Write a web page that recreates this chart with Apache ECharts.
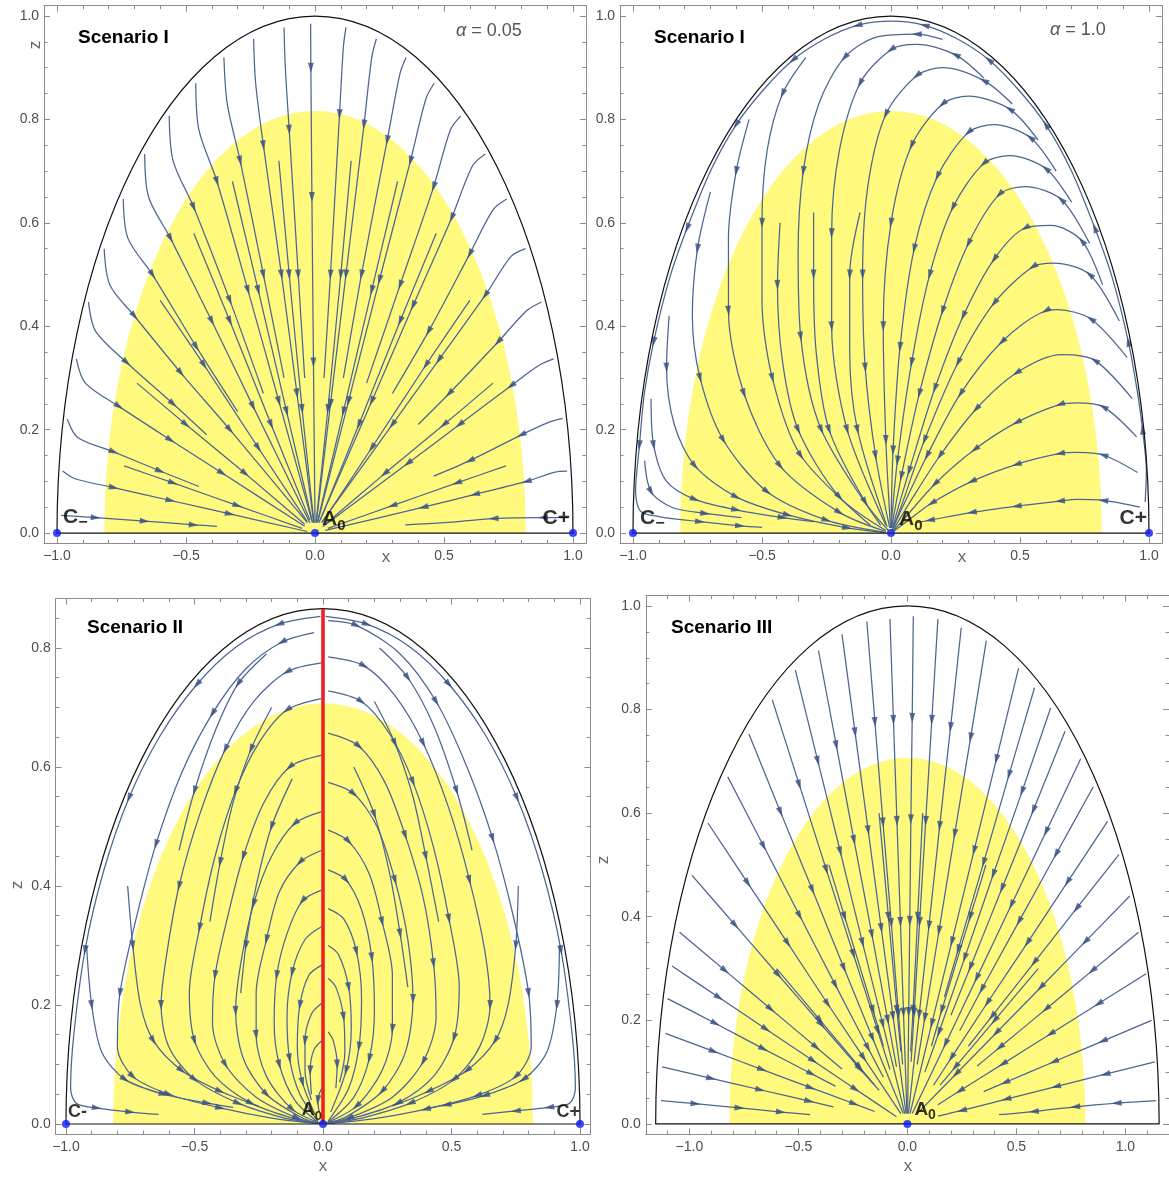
<!DOCTYPE html>
<html><head><meta charset="utf-8">
<script src="https://cdn.jsdelivr.net/npm/echarts@6/dist/echarts.min.js"></script>
<style>html,body{margin:0;padding:0;background:#fff}#c{width:1169px;height:1180px}</style>
</head><body><div id="c"></div>
<script>
// ---------------- DATA ----------------
// Streamlines: each is a list of [x, z] points; a third value 1 marks an arrow head at that point.
const p1Lines = [
 [[-0.984,0.034],[-0.85,0.03,1],[-0.66,0.023,1],[-0.47,0.016,1],[-0.38,0.013]],
 [[-0.978,0.12],[-0.93,0.105],[-0.78,0.088,1],[-0.56,0.063,1],[-0.33,0.037,1],[-0.03,0.003]],
 [[-0.96,0.22],[-0.92,0.185],[-0.78,0.157,1],[-0.6,0.12,1],[-0.45,0.09]],
 [[-0.925,0.337],[-0.89,0.29],[-0.76,0.245,1],[-0.56,0.18,1],[-0.36,0.116,1],[-0.04,0.013]],
 [[-0.878,0.447],[-0.85,0.39],[-0.73,0.33,1],[-0.55,0.25,1],[-0.42,0.19]],
 [[-0.817,0.55],[-0.795,0.48],[-0.7,0.42,1],[-0.52,0.31,1],[-0.33,0.2,1],[-0.03,0.02]],
 [[-0.743,0.646],[-0.725,0.57],[-0.63,0.5,1],[-0.46,0.36,1],[-0.3,0.235]],
 [[-0.66,0.733],[-0.645,0.65],[-0.56,0.57,1],[-0.4,0.41,1],[-0.24,0.245,1],[-0.02,0.02]],
 [[-0.565,0.807],[-0.55,0.72],[-0.47,0.63,1],[-0.33,0.45,1],[-0.2,0.27]],
 [[-0.462,0.87],[-0.45,0.78],[-0.38,0.68,1],[-0.26,0.47,1],[-0.14,0.255,1],[-0.01,0.02]],
 [[-0.353,0.92],[-0.34,0.83],[-0.29,0.72,1],[-0.2,0.5,1],[-0.12,0.3]],
 [[-0.238,0.956],[-0.23,0.87],[-0.2,0.75,1],[-0.13,0.5,1],[-0.07,0.27,1],[-0.005,0.02]],
 [[-0.12,0.978],[-0.115,0.9],[-0.1,0.78,1],[-0.065,0.5,1],[-0.04,0.3]],
 [[-0.017,0.985],[-0.016,0.9,1],[-0.012,0.65,1],[-0.006,0.33,1],[0,0.02]],
 [[0.98,0.03],[0.884,0.03,1],[0.692,0.028,1],[0.5,0.02],[0.35,0.016]],
 [[0.977,0.12],[0.93,0.118],[0.82,0.1,1],[0.62,0.075,1],[0.42,0.05,1],[0.04,0.005]],
 [[0.96,0.222],[0.91,0.215],[0.8,0.19,1],[0.6,0.14,1],[0.46,0.11]],
 [[0.925,0.337],[0.87,0.325],[0.76,0.285,1],[0.56,0.21,1],[0.36,0.135,1],[0.03,0.012]],
 [[0.878,0.447],[0.82,0.43],[0.71,0.37,1],[0.52,0.27,1],[0.4,0.21]],
 [[0.816,0.55],[0.76,0.535],[0.66,0.46,1],[0.48,0.335,1],[0.3,0.21,1],[0.025,0.02]],
 [[0.743,0.646],[0.69,0.625],[0.6,0.54,1],[0.44,0.39,1],[0.3,0.27]],
 [[0.66,0.733],[0.61,0.71],[0.53,0.61,1],[0.38,0.44,1],[0.22,0.255,1],[0.015,0.02]],
 [[0.565,0.807],[0.525,0.78],[0.46,0.67,1],[0.33,0.48,1],[0.2,0.29]],
 [[0.462,0.87],[0.43,0.84],[0.37,0.72,1],[0.25,0.49,1],[0.13,0.255,1],[0.01,0.02]],
 [[0.353,0.92],[0.33,0.89],[0.28,0.76,1],[0.18,0.5,1],[0.11,0.3]],
 [[0.238,0.956],[0.22,0.92],[0.19,0.79,1],[0.12,0.5,1],[0.06,0.25,1],[0.005,0.02]],
 [[0.12,0.978],[0.11,0.94],[0.095,0.81,1],[0.06,0.5,1],[0.035,0.3]],
 [[-0.74,0.13],[-0.55,0.097,1],[-0.3,0.053,1],[-0.05,0.009]],
 [[-0.69,0.29],[-0.5,0.21,1],[-0.27,0.115,1],[-0.04,0.017]],
 [[-0.6,0.45],[-0.43,0.325,1],[-0.22,0.165,1],[-0.03,0.022]],
 [[-0.47,0.58],[-0.33,0.41,1],[-0.17,0.21,1],[-0.02,0.025]],
 [[-0.32,0.68],[-0.22,0.47,1],[-0.11,0.235,1],[-0.01,0.022]],
 [[-0.14,0.72],[-0.1,0.5,1],[-0.05,0.24,1],[-0.004,0.02]],
 [[0.74,0.13],[0.55,0.097,1],[0.3,0.053,1],[0.05,0.009]],
 [[0.69,0.29],[0.5,0.21,1],[0.27,0.115,1],[0.04,0.017]],
 [[0.6,0.45],[0.43,0.325,1],[0.22,0.165,1],[0.03,0.022]],
 [[0.47,0.58],[0.33,0.41,1],[0.17,0.21,1],[0.02,0.025]],
 [[0.32,0.68],[0.22,0.47,1],[0.11,0.235,1],[0.01,0.022]],
 [[0.14,0.72],[0.1,0.5,1],[0.05,0.24,1],[0.004,0.02]]
];

const p2Lines = [
 [[0.965,0.05],[0.823,0.063,1],[0.72,0.065],[0.655,0.062,1],[0.487,0.052,1],[0.313,0.04,1],[0.151,0.025,1],[0.1,0.02]],
 [[0.956,0.117],[0.823,0.151,1],[0.72,0.156],[0.655,0.154,1],[0.487,0.133,1],[0.313,0.1,1],[0.158,0.058,1],[0.06,0.022],[0.012,0.004]],
 [[0.952,0.186],[0.823,0.244,1],[0.72,0.252],[0.655,0.249,1],[0.487,0.214,1],[0.325,0.162,1],[0.17,0.095,1],[0.05,0.027],[0.01,0.005]],
 [[0.935,0.26],[0.79,0.334,1],[0.66,0.345],[0.487,0.31,1],[0.33,0.24,1],[0.19,0.15,1],[0.08,0.065],[0.01,0.007]],
 [[0.915,0.34],[0.775,0.414,1],[0.645,0.432],[0.6,0.43,1],[0.43,0.37,1],[0.27,0.27,1],[0.14,0.15,1],[0.04,0.045],[0.005,0.006]],
 [[0.885,0.41],[0.77,0.5,1],[0.63,0.522],[0.55,0.515,1],[0.4,0.445,1],[0.26,0.33,1],[0.13,0.18,1],[0.035,0.045],[0.003,0.005]],
 [[0.82,0.48],[0.74,0.565,1],[0.62,0.595],[0.52,0.59,1],[0.4,0.53,1],[0.28,0.42,1],[0.17,0.28,1],[0.07,0.12,1],[0.005,0.01]],
 [[0.77,0.56],[0.66,0.645,1],[0.52,0.67],[0.42,0.655,1],[0.3,0.56,1],[0.2,0.43,1],[0.11,0.27,1],[0.04,0.11,1],[0.002,0.01]],
 [[0.7,0.64],[0.6,0.705,1],[0.46,0.73],[0.36,0.715,1],[0.24,0.63,1],[0.15,0.5,1],[0.08,0.33,1],[0.025,0.14,1],[0,0.01]],
 [[0.64,0.7],[0.54,0.765,1],[0.4,0.79],[0.3,0.775,1],[0.18,0.69,1],[0.09,0.55,1],[0.035,0.36,1],[0.008,0.16,1],[0,0.01]],
 [[0.57,0.76],[0.46,0.82,1],[0.3,0.845],[0.2,0.83,1],[0.08,0.75,1],[0.0,0.6,1],[-0.03,0.4,1],[-0.02,0.18,1],[-0.002,0.01]],
 [[0.47,0.83],[0.36,0.875,1],[0.2,0.9],[0.1,0.885,1],[-0.02,0.81,1],[-0.09,0.67],[-0.11,0.5,1],[-0.1,0.32,1],[-0.06,0.15,1],[-0.005,0.01]],
 [[0.36,0.88],[0.25,0.925,1],[0.1,0.945],[0.0,0.935,1],[-0.12,0.87,1],[-0.2,0.74],[-0.23,0.58,1],[-0.23,0.4,1],[-0.17,0.2,1],[-0.02,0.015]],
 [[0.2,0.955],[0.1,0.965,1],[-0.05,0.96],[-0.18,0.92,1],[-0.28,0.83],[-0.34,0.7,1],[-0.36,0.54],[-0.35,0.38,1],[-0.27,0.2,1],[-0.04,0.015]],
 [[0.985,0.06],[0.99,0.12],[0.975,0.2,1],[0.956,0.27],[0.92,0.37,1],[0.857,0.495],[0.79,0.59,1],[0.7,0.7],[0.6,0.79,1],[0.495,0.857],[0.38,0.915,1],[0.256,0.956],[0.13,0.982,1],[0,0.99],[-0.13,0.982,1],[-0.256,0.956],[-0.38,0.915,1],[-0.495,0.857],[-0.6,0.79,1],[-0.7,0.7],[-0.79,0.59,1],[-0.857,0.495],[-0.92,0.37,1],[-0.956,0.27],[-0.975,0.17,1],[-0.99,0.08],[-0.97,0.042],[-0.9,0.032],[-0.74,0.022,1],[-0.585,0.014,1],[-0.5,0.011]],
 [[-0.33,0.92],[-0.42,0.85,1],[-0.48,0.74],[-0.5,0.6,1],[-0.5,0.45],[-0.46,0.3,1],[-0.35,0.15,1],[-0.08,0.015]],
 [[-0.55,0.8],[-0.6,0.7,1],[-0.63,0.57],[-0.63,0.43,1],[-0.57,0.27,1],[-0.43,0.13,1],[-0.2,0.04,1],[-0.02,0.003]],
 [[-0.7,0.66],[-0.75,0.55,1],[-0.77,0.42],[-0.74,0.3,1],[-0.65,0.18,1],[-0.48,0.08,1],[-0.25,0.025,1],[-0.03,0.002]],
 [[-0.86,0.42],[-0.87,0.32,1],[-0.84,0.21],[-0.76,0.13,1],[-0.6,0.07,1],[-0.4,0.035,1],[-0.17,0.01,1],[-0.02,0.001]],
 [[-0.93,0.26],[-0.92,0.17,1],[-0.87,0.1],[-0.76,0.065,1],[-0.6,0.045,1],[-0.42,0.03,1],[-0.3,0.022]],
 [[-0.955,0.14],[-0.93,0.08,1],[-0.85,0.05],[-0.72,0.038,1],[-0.58,0.03]],
 [[-0.12,0.62],[-0.16,0.5,1],[-0.16,0.35],[-0.13,0.2,1],[-0.015,0.012]],
 [[-0.3,0.62],[-0.3,0.5,1],[-0.29,0.35],[-0.24,0.2,1],[-0.1,0.06,1],[-0.01,0.005]],
 [[-0.43,0.6],[-0.44,0.48,1],[-0.42,0.33],[-0.36,0.2,1],[-0.2,0.07,1],[-0.02,0.005]]
];

const p3LeftLines = [
 [[-0.01,0.853],[-0.171,0.84,1],[-0.337,0.802],[-0.49,0.739,1],[-0.633,0.653],[-0.755,0.548,1],[-0.853,0.426],[-0.926,0.292,1],[-0.97,0.148],[-0.982,0.06],[-0.96,0.035],[-0.88,0.027,1],[-0.75,0.02,1],[-0.64,0.016]],
 [[-0.035,0.826],[-0.16,0.81,1],[-0.3,0.765],[-0.43,0.69,1],[-0.55,0.59],[-0.65,0.47,1],[-0.73,0.34],[-0.79,0.22,1],[-0.8,0.13],[-0.74,0.08,1],[-0.6,0.05,1],[-0.4,0.027,1],[-0.2,0.01],[-0.03,0.001]],
 [[-0.92,0.3],[-0.9,0.2,1],[-0.86,0.12],[-0.77,0.075,1],[-0.62,0.05,1],[-0.45,0.035,1],[-0.35,0.028]],
 [[-0.005,0.775],[-0.14,0.76,1],[-0.27,0.71],[-0.38,0.63,1],[-0.48,0.52],[-0.56,0.4,1],[-0.61,0.28],[-0.63,0.2,1],[-0.6,0.13],[-0.5,0.075,1],[-0.33,0.035,1],[-0.15,0.01],[-0.02,0.001]],
 [[-0.76,0.4],[-0.74,0.3,1],[-0.71,0.2],[-0.66,0.14,1],[-0.55,0.09,1],[-0.4,0.055,1],[-0.25,0.03]],
 [[-0.005,0.715],[-0.14,0.696,1],[-0.25,0.64],[-0.34,0.56,1],[-0.42,0.45],[-0.48,0.33,1],[-0.52,0.22],[-0.5,0.14,1],[-0.42,0.08],[-0.28,0.035,1],[-0.12,0.01],[-0.02,0.001]],
 [[-0.005,0.62],[-0.13,0.6,1],[-0.23,0.54],[-0.31,0.45,1],[-0.37,0.35],[-0.42,0.25,1],[-0.43,0.17],[-0.38,0.1,1],[-0.26,0.045],[-0.1,0.01,1],[-0.01,0.001]],
 [[-0.005,0.525],[-0.11,0.505,1],[-0.2,0.45],[-0.27,0.37,1],[-0.32,0.27],[-0.34,0.19,1],[-0.31,0.11],[-0.22,0.05,1],[-0.08,0.01],[-0.01,0.001]],
 [[-0.005,0.46],[-0.09,0.44,1],[-0.17,0.39],[-0.22,0.31,1],[-0.26,0.22],[-0.26,0.15,1],[-0.22,0.08],[-0.12,0.025,1],[-0.01,0.001]],
 [[-0.005,0.393],[-0.08,0.375,1],[-0.14,0.32],[-0.18,0.25,1],[-0.19,0.17],[-0.17,0.1,1],[-0.11,0.04],[-0.02,0.003]],
 [[-0.005,0.332],[-0.07,0.31],[-0.12,0.255,1],[-0.14,0.18],[-0.13,0.11,1],[-0.09,0.05],[-0.02,0.005]],
 [[-0.005,0.267],[-0.055,0.25],[-0.09,0.2,1],[-0.1,0.13],[-0.08,0.07,1],[-0.03,0.015]],
 [[-0.005,0.203],[-0.045,0.185],[-0.07,0.14,1],[-0.07,0.09],[-0.045,0.04]],
 [[-0.005,0.14],[-0.035,0.125],[-0.05,0.09,1],[-0.045,0.05]],
 [[-0.005,0.06],[-0.02,0.04,1],[-0.015,0.02]],
 [[-0.22,0.79],[-0.33,0.74,1],[-0.42,0.66],[-0.5,0.56,1],[-0.56,0.46]],
 [[-0.2,0.7],[-0.28,0.63,1],[-0.35,0.54],[-0.4,0.44,1],[-0.44,0.34]],
 [[-0.12,0.58],[-0.2,0.5,1],[-0.26,0.4],[-0.3,0.3,1],[-0.32,0.22]]
];

const p3RightLines = [
 [[0.01,0.853],[0.171,0.84,1],[0.337,0.802],[0.49,0.739,1],[0.633,0.653],[0.755,0.548,1],[0.853,0.426],[0.926,0.292,1],[0.97,0.148],[0.982,0.06],[0.96,0.035],[0.88,0.028,1],[0.75,0.022,1],[0.62,0.016]],
 [[0.02,0.846],[0.13,0.838,1],[0.3,0.79],[0.44,0.71,1],[0.56,0.6],[0.66,0.48,1],[0.74,0.35],[0.8,0.22,1],[0.81,0.13],[0.75,0.08,1],[0.6,0.048,1],[0.4,0.025,1],[0.2,0.009],[0.03,0.001]],
 [[0.02,0.785],[0.16,0.77,1],[0.28,0.72],[0.39,0.64,1],[0.49,0.53],[0.57,0.41,1],[0.63,0.29],[0.65,0.2,1],[0.61,0.13],[0.51,0.075,1],[0.34,0.035,1],[0.15,0.01],[0.02,0.001]],
 [[0.02,0.728],[0.15,0.71,1],[0.26,0.655],[0.35,0.575,1],[0.43,0.465],[0.49,0.345,1],[0.53,0.23],[0.51,0.145,1],[0.43,0.08],[0.29,0.035,1],[0.12,0.01],[0.02,0.001]],
 [[0.02,0.657],[0.14,0.635,1],[0.24,0.575],[0.32,0.485,1],[0.39,0.38],[0.43,0.27,1],[0.44,0.18],[0.39,0.105,1],[0.27,0.045],[0.1,0.01,1],[0.01,0.001]],
 [[0.02,0.574],[0.12,0.555,1],[0.21,0.5],[0.28,0.41,1],[0.33,0.31],[0.35,0.21,1],[0.32,0.12],[0.23,0.055,1],[0.09,0.012],[0.01,0.001]],
 [[0.02,0.494],[0.1,0.475,1],[0.18,0.42],[0.23,0.34,1],[0.27,0.25],[0.27,0.16,1],[0.23,0.09],[0.13,0.03,1],[0.01,0.001]],
 [[0.02,0.427],[0.09,0.41,1],[0.15,0.36],[0.19,0.28,1],[0.2,0.19],[0.18,0.11,1],[0.12,0.045],[0.02,0.003]],
 [[0.02,0.362],[0.08,0.345],[0.13,0.29,1],[0.15,0.21],[0.14,0.13,1],[0.1,0.06],[0.02,0.005]],
 [[0.02,0.3],[0.06,0.285],[0.1,0.23,1],[0.11,0.16],[0.09,0.09,1],[0.03,0.02]],
 [[0.02,0.245],[0.05,0.23],[0.08,0.18,1],[0.085,0.12],[0.065,0.07]],
 [[0.02,0.155],[0.04,0.14],[0.055,0.1,1],[0.05,0.06]],
 [[0.92,0.3],[0.91,0.2,1],[0.87,0.12],[0.78,0.075,1],[0.63,0.048,1],[0.48,0.032,1],[0.4,0.026]],
 [[0.76,0.4],[0.75,0.3,1],[0.72,0.2],[0.67,0.14,1],[0.56,0.09,1],[0.41,0.055,1],[0.27,0.03]],
 [[0.22,0.8],[0.33,0.75,1],[0.43,0.67],[0.52,0.56,1],[0.58,0.46]],
 [[0.2,0.71],[0.28,0.64,1],[0.35,0.55],[0.4,0.45,1],[0.45,0.34]],
 [[0.12,0.6],[0.2,0.52,1],[0.26,0.42],[0.3,0.32,1],[0.33,0.23]]
];

const p4Lines = [
 [[-0.08,0.975],[-0.064,0.78,1],[-0.048,0.585,1],[-0.032,0.39,1],[-0.018,0.215,1],[-0.002,0.02]],
 [[-0.186,0.97],[-0.149,0.776,1],[-0.112,0.582,1],[-0.074,0.388,1],[-0.041,0.213,1],[-0.022,0.115]],
 [[-0.3,0.945],[-0.24,0.756,1],[-0.18,0.567,1],[-0.12,0.378,1],[-0.066,0.208,1],[-0.006,0.02]],
 [[-0.408,0.914],[-0.326,0.731,1],[-0.245,0.548,1],[-0.163,0.366,1],[-0.09,0.201,1],[-0.05,0.11]],
 [[-0.514,0.876],[-0.411,0.701,1],[-0.308,0.526,1],[-0.206,0.35,1],[-0.113,0.193,1],[-0.012,0.02]],
 [[-0.62,0.819],[-0.496,0.655,1],[-0.372,0.491,1],[-0.248,0.328,1],[-0.136,0.18,1],[-0.08,0.105]],
 [[-0.727,0.753],[-0.582,0.602,1],[-0.436,0.452,1],[-0.291,0.301,1],[-0.16,0.166,1],[-0.019,0.02]],
 [[-0.824,0.67],[-0.659,0.536,1],[-0.494,0.402,1],[-0.33,0.268,1],[-0.181,0.147,1],[-0.11,0.09]],
 [[-0.915,0.581],[-0.732,0.465,1],[-0.549,0.349,1],[-0.366,0.232,1],[-0.201,0.128,1],[-0.03,0.02]],
 [[-0.988,0.48],[-0.79,0.384,1],[-0.593,0.288,1],[-0.395,0.192,1],[-0.217,0.106,1],[-0.13,0.065]],
 [[-1.045,0.37],[-0.836,0.296,1],[-0.627,0.222,1],[-0.418,0.148,1],[-0.3,0.106]],
 [[-1.08,0.305],[-0.864,0.244,1],[-0.648,0.183,1],[-0.432,0.122,1],[-0.238,0.067,1],[-0.05,0.014]],
 [[-1.1,0.242],[-0.88,0.194,1],[-0.66,0.145,1],[-0.44,0.097,1],[-0.33,0.073]],
 [[-1.11,0.175],[-0.888,0.14,1],[-0.666,0.105,1],[-0.444,0.07,1],[-0.244,0.039,1],[-0.15,0.024]],
 [[-1.125,0.11],[-0.9,0.088,1],[-0.675,0.066,1],[-0.45,0.044,1],[-0.34,0.033]],
 [[-1.13,0.045],[-0.972,0.039,1],[-0.77,0.031,1],[-0.58,0.023,1],[-0.447,0.018]],
 [[0.027,0.98],[0.022,0.784,1],[0.016,0.588,1],[0.011,0.392,1],[0.006,0.216,1],[0.001,0.02]],
 [[0.14,0.975],[0.112,0.78,1],[0.084,0.585,1],[0.056,0.39,1],[0.031,0.215,1],[0.017,0.12]],
 [[0.247,0.958],[0.198,0.766,1],[0.148,0.575,1],[0.099,0.383,1],[0.054,0.211,1],[0.005,0.02]],
 [[0.362,0.933],[0.29,0.746,1],[0.217,0.56,1],[0.145,0.373,1],[0.08,0.205,1],[0.045,0.115]],
 [[0.51,0.88],[0.408,0.704,1],[0.306,0.528,1],[0.204,0.352,1],[0.112,0.194,1],[0.012,0.02]],
 [[0.583,0.842],[0.466,0.674,1],[0.35,0.505,1],[0.233,0.337,1],[0.17,0.245]],
 [[0.657,0.803],[0.526,0.642,1],[0.394,0.482,1],[0.263,0.321,1],[0.145,0.177,1],[0.08,0.1]],
 [[0.723,0.758],[0.578,0.606,1],[0.434,0.455,1],[0.289,0.303,1],[0.2,0.21]],
 [[0.795,0.705],[0.636,0.564,1],[0.477,0.423,1],[0.318,0.282,1],[0.175,0.155,1],[0.022,0.02]],
 [[0.853,0.651],[0.682,0.521,1],[0.512,0.391,1],[0.341,0.26,1],[0.24,0.18]],
 [[0.918,0.584],[0.734,0.467,1],[0.551,0.35,1],[0.367,0.234,1],[0.202,0.128,1],[0.12,0.075]],
 [[0.97,0.52],[0.776,0.416,1],[0.582,0.312,1],[0.388,0.208,1],[0.28,0.15]],
 [[1.02,0.44],[0.816,0.352,1],[0.612,0.264,1],[0.408,0.176,1],[0.224,0.097,1],[0.045,0.02]],
 [[1.06,0.37],[0.848,0.296,1],[0.636,0.222,1],[0.424,0.148,1],[0.32,0.112]],
 [[1.095,0.29],[0.876,0.232,1],[0.657,0.174,1],[0.438,0.116,1],[0.241,0.064,1],[0.14,0.037]],
 [[1.12,0.2],[0.896,0.16,1],[0.672,0.12,1],[0.448,0.08,1],[0.35,0.0625]],
 [[1.135,0.12],[0.908,0.096,1],[0.681,0.072,1],[0.454,0.048,1],[0.25,0.026,1],[0.14,0.015]],
 [[1.14,0.045],[0.96,0.04,1],[0.77,0.033,1],[0.58,0.024,1],[0.42,0.018]],
 [[-0.13,0.6],[-0.087,0.4,1],[-0.048,0.22,1],[-0.03,0.14]],
 [[0.07,0.6],[0.047,0.4,1],[0.026,0.22,1],[0.015,0.14]],
 [[-0.36,0.5],[-0.288,0.4,1],[-0.158,0.22,1],[-0.11,0.15]],
 [[0.36,0.5],[0.288,0.4,1],[0.158,0.22,1],[0.11,0.15]],
 [[-0.6,0.3],[-0.4,0.2,1],[-0.22,0.11,1],[-0.15,0.075]],
 [[0.6,0.3],[0.4,0.2,1],[0.22,0.11,1],[0.15,0.075]]
];

// Half-ellipses [centerX, centerZ, semiAxisX, semiAxisZ]
const boundaryP1 = [0, 0, 1, 1];
const yellowP1   = [0, 0, 0.8165, 0.8165];
const boundaryP2 = [0, 0, 1, 1];
const yellowP2   = [0, 0, 0.8165, 0.8165];
const boundaryP3 = [0, 0, 1, 0.866];
const yellowP3   = [0, 0, 0.8165, 0.7071];
const boundaryP4 = [0, 0, 1.1547, 1];
const yellowP4   = [0, 0, 0.8165, 0.7071];

const redLineP3 = [[0, 0], [0, 0.866]];

const pointsP1 = [[-1, 0], [0, 0], [1, 0]];
const pointsP2 = [[-1, 0], [0, 0], [1, 0]];
const pointsP3 = [[-1, 0], [0, 0], [1, 0]];
const pointsP4 = [[0, 0]];

// Tick values
const xMajorA = [-1, -0.5, 0, 0.5, 1];
const xMinorA = [-0.9,-0.8,-0.7,-0.6,-0.4,-0.3,-0.2,-0.1,0.1,0.2,0.3,0.4,0.6,0.7,0.8,0.9];
const xMinorP4 = [-1.1,-0.9,-0.8,-0.7,-0.6,-0.4,-0.3,-0.2,-0.1,0.1,0.2,0.3,0.4,0.6,0.7,0.8,0.9,1.1];
const zMajor10 = [0, 0.2, 0.4, 0.6, 0.8, 1.0];
const zMinor10 = [0.05,0.1,0.15,0.25,0.3,0.35,0.45,0.5,0.55,0.65,0.7,0.75,0.85,0.9,0.95];
const zMajor08 = [0, 0.2, 0.4, 0.6, 0.8];
const zMinor08 = [0.05,0.1,0.15,0.25,0.3,0.35,0.45,0.5,0.55,0.65,0.7,0.75,0.85];

// ---------------- LAYOUT / STYLE ----------------
const FONT = '"Liberation Sans", Arial, sans-serif';
const FRAME = '#8c8c8c';
const TICKTXT = '#4d4d4d';
const C_LINE = '#4c6593';
const C_ARROW = '#354f83';
const C_YELLOW = '#fffa7e';

const GRIDS = [
  {left: 44.1,  top: 5.7,   width: 541.8, height: 537.7, x: [-1.05, 1.05], z: [-0.02, 1.02], xMaj: xMajorA, xMin: xMinorA, zMaj: zMajor10, zMin: zMinor10},
  {left: 620.1, top: 5.7,   width: 541.8, height: 537.7, x: [-1.05, 1.05], z: [-0.02, 1.02], xMaj: xMajorA, xMin: xMinorA, zMaj: zMajor10, zMin: zMinor10},
  {left: 55.7,  top: 598.6, width: 534.6, height: 535.5, x: [-1.04, 1.04], z: [-0.017, 0.883], xMaj: xMajorA, xMin: xMinorA, zMaj: zMajor08, zMin: zMinor08},
  {left: 645.8, top: 595.6, width: 524.4, height: 538.7, x: [-1.2, 1.2],   z: [-0.02, 1.02], xMaj: xMajorA, xMin: xMinorP4, zMaj: zMajor10, zMin: zMinor10}
];

const fmtX = v => (v < 0 ? '\u2212' : '') + Math.abs(v).toFixed(1);
const fmtZ = v => v.toFixed(1);

function axis(kind, g, pos, ticks, len, labels, line) {
  const G = GRIDS[g];
  const ext = kind === 'x' ? G.x : G.z;
  return {
    type: 'value', gridIndex: g, position: pos, min: ext[0], max: ext[1], silent: true,
    axisLine: {show: line, onZero: false, lineStyle: {color: FRAME, width: 1}},
    axisTick: {show: true, inside: true, length: len, customValues: ticks, lineStyle: {color: FRAME, width: 1}},
    axisLabel: {show: labels, customValues: ticks, formatter: kind === 'x' ? fmtX : fmtZ,
      color: TICKTXT, fontSize: 14, fontFamily: FONT, margin: kind === 'x' ? 6 : 5},
    splitLine: {show: false}, minorTick: {show: false}
  };
}

const xAxes = [], yAxes = [];
GRIDS.forEach((G, g) => {
  xAxes.push(axis('x', g, 'bottom', G.xMaj, 6, true, true));
  xAxes.push(axis('x', g, 'bottom', G.xMin, 3.5, false, false));
  xAxes.push(axis('x', g, 'top', G.xMaj, 6, false, true));
  xAxes.push(axis('x', g, 'top', G.xMin, 3.5, false, false));
  yAxes.push(axis('z', g, 'left', G.zMaj, 6, true, true));
  yAxes.push(axis('z', g, 'left', G.zMin, 3.5, false, false));
  yAxes.push(axis('z', g, 'right', G.zMaj, 6, false, true));
  yAxes.push(axis('z', g, 'right', G.zMin, 3.5, false, false));
});

const HALF_PATH = 'M0 1 C0 0.4477 0.4477 0 1 0 C1.5523 0 2 0.4477 2 1 Z';
function halfEllipse(g, params, style, z) {
  return {
    type: 'custom', xAxisIndex: 4 * g, yAxisIndex: 4 * g, data: [params], silent: true, z: z, clip: false,
    renderItem: (p, api) => {
      const c = api.coord([api.value(0), api.value(1)]);
      const s = api.size([api.value(2), api.value(3)], [api.value(0), api.value(1)]);
      return {type: 'path', shape: {pathData: HALF_PATH, x: c[0] - s[0], y: c[1] - s[1], width: 2 * s[0], height: s[1], layout: 'cover'}, style: style};
    }
  };
}

function lineSeries(lines, g) {
  return lines.map(l => ({
    type: 'line', xAxisIndex: 4 * g, yAxisIndex: 4 * g, data: l.map(p => [p[0], p[1]]),
    smooth: 0.3, symbol: 'none', showSymbol: false, silent: true, z: 3,
    lineStyle: {color: C_LINE, width: 1.25}
  }));
}

let chart;
function arrowSeries(lines, g) {
  const data = [];
  lines.forEach(l => {
    for (let i = 1; i < l.length - 1; i++) {
      if (!l[i][2]) continue;
      const a = chart.convertToPixel({xAxisIndex: 4 * g, yAxisIndex: 4 * g}, [l[i - 1][0], l[i - 1][1]]);
      const b = chart.convertToPixel({xAxisIndex: 4 * g, yAxisIndex: 4 * g}, [l[i + 1][0], l[i + 1][1]]);
      const ang = Math.atan2(-(b[1] - a[1]), b[0] - a[0]) * 180 / Math.PI - 90;
      data.push({value: [l[i][0], l[i][1]], symbolRotate: ang});
    }
  });
  return {type: 'scatter', xAxisIndex: 4 * g, yAxisIndex: 4 * g, data: data, symbol: 'triangle',
    symbolSize: [6, 10], itemStyle: {color: C_ARROW}, silent: true, z: 4};
}

const RICH = (big, small) => ({
  b: {fontFamily: FONT, fontWeight: 'bold', fontSize: big, color: '#000', lineHeight: big + 3, verticalAlign: 'top'},
  s: {fontFamily: FONT, fontWeight: 'bold', fontSize: small, color: '#000', lineHeight: small, verticalAlign: 'bottom'}
});
function pointSeries(g, pts, labels) {
  return {
    type: 'scatter', xAxisIndex: 4 * g, yAxisIndex: 4 * g, symbol: 'circle', symbolSize: 8,
    itemStyle: {color: '#0a1af5'}, silent: true, z: 8,
    data: pts.map((p, i) => ({value: p, label: labels[i]}))
  };
}
function lab(text, align, off, big, small) {
  return {show: true, position: 'inside', formatter: text, align: align, verticalAlign: 'middle',
    offset: off, rich: RICH(big, small)};
}

function buildOption(withArrows) {
  const series = [];
  series.push(halfEllipse(0, yellowP1, {fill: C_YELLOW}, 1));
  series.push(halfEllipse(1, yellowP2, {fill: C_YELLOW}, 1));
  series.push(halfEllipse(2, yellowP3, {fill: C_YELLOW}, 1));
  series.push(halfEllipse(3, yellowP4, {fill: C_YELLOW}, 1));
  series.push(...lineSeries(p1Lines, 0));
  series.push(...lineSeries(p2Lines, 1));
  series.push(...lineSeries(p3LeftLines, 2));
  series.push(...lineSeries(p3RightLines, 2));
  series.push(...lineSeries(p4Lines, 3));
  if (withArrows) {
    series.push(arrowSeries(p1Lines, 0));
    series.push(arrowSeries(p2Lines, 1));
    series.push(arrowSeries(p3LeftLines, 2));
    series.push(arrowSeries(p3RightLines, 2));
    series.push(arrowSeries(p4Lines, 3));
  }
  const bStyle = {fill: 'none', stroke: '#111', lineWidth: 1.2};
  series.push(halfEllipse(0, boundaryP1, bStyle, 5));
  series.push(halfEllipse(1, boundaryP2, bStyle, 5));
  series.push(halfEllipse(2, boundaryP3, bStyle, 5));
  series.push(halfEllipse(3, boundaryP4, bStyle, 5));
  series.push({type: 'line', xAxisIndex: 8, yAxisIndex: 8, data: redLineP3, symbol: 'none', silent: true, z: 6,
    lineStyle: {color: '#ea2127', width: 3.6}});
  series.push(pointSeries(0, pointsP1, [
    lab('{b|C}{s|\u2212}', 'left', [6, -14], 21, 16), lab('{b|A}{s|0}', 'left', [7, -12], 21, 15), lab('{b|C+}', 'right', [-3, -13], 21, 15)]));
  series.push(pointSeries(1, pointsP2, [
    lab('{b|C}{s|\u2212}', 'left', [7, -13], 21, 16), lab('{b|A}{s|0}', 'left', [8, -12], 21, 15), lab('{b|C+}', 'right', [-2, -13], 21, 15)]));
  series.push(pointSeries(2, pointsP3, [
    lab('{b|C-}', 'left', [2, -10], 18, 13), lab('{b|A}{s|0}', 'right', [-1, -12], 18, 13), lab('{b|C+}', 'right', [0, -10], 18, 13)]));
  series.push(pointSeries(3, pointsP4, [lab('{b|A}{s|0}', 'left', [7, -13], 19, 14)]));

  const txt = (x, y, text, font, fill, extra) => Object.assign({type: 'text', x: x, y: y, silent: true, z: 100,
    style: Object.assign({text: text, font: font, fill: fill, textAlign: 'left', textVerticalAlign: 'middle'}, (extra && extra.style) || {})},
    extra && extra.el || {});
  const titleFont = 'bold 19px ' + FONT;
  const alphaRich = {i: {fontStyle: 'italic', fontSize: 18, fontFamily: FONT, fill: '#555', color: '#555'}};
  const graphic = [
    txt(78, 38, 'Scenario I', titleFont, '#000'),
    txt(654, 38, 'Scenario I', titleFont, '#000'),
    txt(87, 628, 'Scenario II', titleFont, '#000'),
    txt(671, 628, 'Scenario III', titleFont, '#000'),
    txt(456, 31, '{i|\u03b1} = 0.05', '18px ' + FONT, '#555', {style: {rich: alphaRich}}),
    txt(1050, 30, '{i|\u03b1} = 1.0', '18px ' + FONT, '#555', {style: {rich: alphaRich}}),
    txt(386, 557, 'x', '17px ' + FONT, '#666', {style: {textAlign: 'center'}}),
    txt(962, 557, 'x', '17px ' + FONT, '#666', {style: {textAlign: 'center'}}),
    txt(323, 1166, 'x', '17px ' + FONT, '#666', {style: {textAlign: 'center'}}),
    txt(908, 1166, 'x', '17px ' + FONT, '#666', {style: {textAlign: 'center'}}),
    txt(35, 45, 'z', '17px ' + FONT, '#666', {style: {textAlign: 'center'}, el: {rotation: Math.PI / 2}}),
    txt(17, 885, 'z', '17px ' + FONT, '#666', {style: {textAlign: 'center'}, el: {rotation: Math.PI / 2}}),
    txt(603, 860, 'z', '17px ' + FONT, '#666', {style: {textAlign: 'center'}, el: {rotation: Math.PI / 2}})
  ];

  return {
    animation: false,
    backgroundColor: '#fff',
    grid: GRIDS.map(G => ({left: G.left, top: G.top, width: G.width, height: G.height, containLabel: false})),
    xAxis: xAxes, yAxis: yAxes,
    series: series,
    graphic: graphic
  };
}

chart = echarts.init(document.getElementById('c'), null, {renderer: 'canvas', width: 1169, height: 1180});
chart.setOption(buildOption(false));
chart.setOption(buildOption(true), true);
</script></body></html>
